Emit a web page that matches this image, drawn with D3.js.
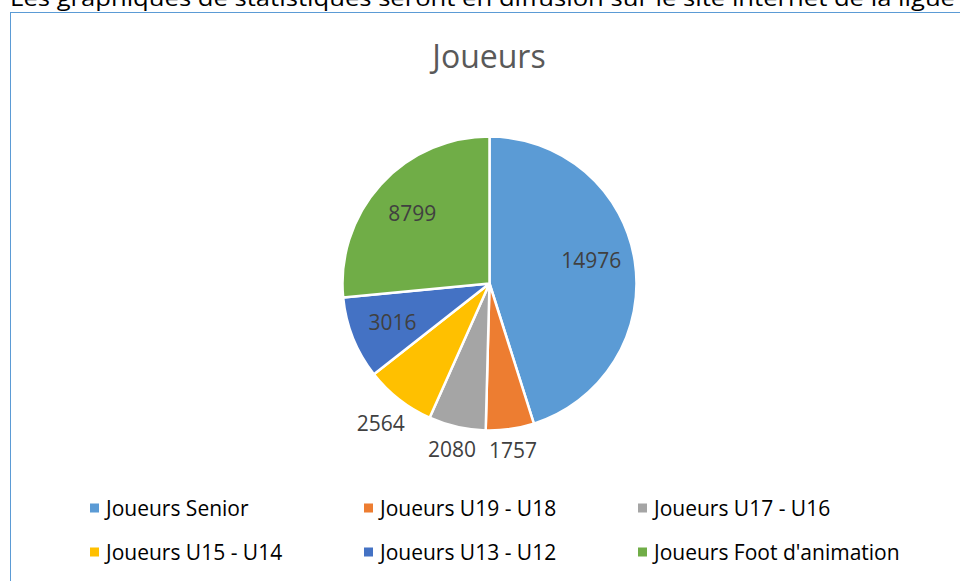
<!DOCTYPE html>
<html>
<head>
<meta charset="utf-8">
<script src="https://cdn.jsdelivr.net/npm/d3@7"></script>
<style>
  body { margin: 0; background: #fff; }
  text { font-family: "Open Sans", Lato, sans-serif; }
</style>
</head>
<body>
<div id="chart"></div>
<script>
// data
const categories = ["Joueurs Senior", "Joueurs U19 - U18", "Joueurs U17 - U16",
                    "Joueurs U15 - U14", "Joueurs U13 - U12", "Joueurs Foot d'animation"];
const values = [14976, 1757, 2080, 2564, 3016, 8799];
const colors = ["#5b9bd5", "#ed7d31", "#a5a5a5", "#ffc000", "#4472c4", "#70ad47"];
const chartTitle = "Joueurs";
const pageText = "Les graphiques de statistiques seront en diffusion sur le site internet de la ligue";

const width = 960, height = 581;

const svg = d3.select("#chart")
    .append("svg")
    .attr("width", width)
    .attr("height", height);

// line of document text above the chart, mostly cut off
svg.append("text")
    .attr("x", 10)
    .attr("y", 6)
    .attr("font-size", 21)
    .attr("fill", "#000")
    .attr("textLength", 945)
    .attr("lengthAdjust", "spacingAndGlyphs")
    .text(pageText);

// chart frame
svg.append("rect")
    .attr("x", 10.5)
    .attr("y", 12.5)
    .attr("width", 980)
    .attr("height", 600)
    .attr("fill", "none")
    .attr("stroke", "#5b9bd5")
    .attr("stroke-width", 1);

svg.append("text")
    .attr("x", 489)
    .attr("y", 68)
    .attr("text-anchor", "middle")
    .attr("font-size", 32)
    .attr("fill", "#595959")
    .text(chartTitle);

const cx = 489.5, cy = 283.5, radius = 147;
const total = d3.sum(values);

const pie = d3.pie().sort(null).value(d => d)(values);
const arc = d3.arc().innerRadius(0).outerRadius(radius);

const g = svg.append("g").attr("transform", "translate(" + cx + "," + cy + ")");

g.selectAll(".slice")
    .data(pie)
    .enter().append("path")
    .attr("class", "slice")
    .attr("d", arc)
    .attr("fill", (d, i) => colors[i])
    .attr("stroke", "#fff")
    .attr("stroke-width", 2.5)
    .attr("stroke-linejoin", "round");

// labels: inside for large slices, outside otherwise
const labels = g.selectAll(".lbl")
    .data(pie)
    .enter().append("text")
    .attr("class", "lbl")
    .attr("font-size", 21)
    .attr("fill", "#404040")
    .attr("text-anchor", "middle")
    .attr("dominant-baseline", "central")
    .text(d => d.value);

labels.each(function(d) {
    const a = (d.startAngle + d.endAngle) / 2 - (d.value / total > 0.3 ? 0.07 : 0);
    const box = this.getBBox();
    let r;
    if (d.value / total > 0.08) {
        r = radius * 0.71;
    } else {
        r = radius + 4 + Math.abs(Math.sin(a)) * box.width / 2 + Math.abs(Math.cos(a)) * box.height / 2;
    }
    d3.select(this)
        .attr("x", r * Math.sin(a))
        .attr("y", -r * Math.cos(a));
});

// legend, 3 columns x 2 rows
const legend = svg.selectAll(".legend")
    .data(categories)
    .enter().append("g")
    .attr("class", "legend")
    .attr("transform", (d, i) => "translate(" + (90 + (i % 3) * 274) + "," + (508 + Math.floor(i / 3) * 44) + ")");

legend.append("rect")
    .attr("x", 0)
    .attr("y", -4.5)
    .attr("width", 9)
    .attr("height", 9)
    .attr("fill", (d, i) => colors[i]);

legend.append("text")
    .attr("x", 16)
    .attr("y", 0)
    .attr("dominant-baseline", "central")
    .attr("font-size", 21)
    .attr("fill", "#000")
    .text(d => d);
</script>
</body>
</html>
